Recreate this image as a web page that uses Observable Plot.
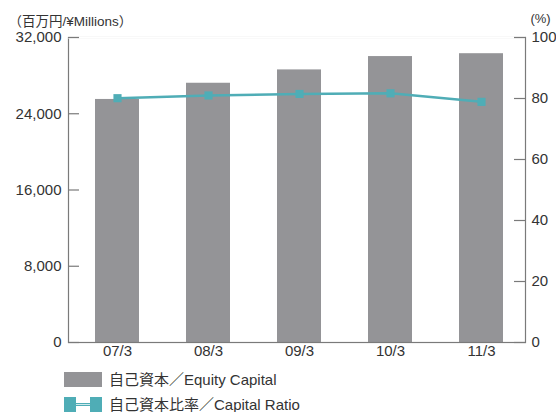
<!DOCTYPE html>
<html>
<head>
<meta charset="utf-8">
<script src="https://cdn.jsdelivr.net/npm/d3@7"></script>
<script src="https://cdn.jsdelivr.net/npm/@observablehq/plot@0.6"></script>
<style>
  html, body { margin: 0; padding: 0; background: #fff; }
  body { width: 556px; height: 412px; overflow: hidden; font-family: 'Liberation Sans', 'Noto Sans CJK JP', sans-serif; color: #333; }
  .legend { position: relative; height: 52px; }
  .item { position: absolute; left: 64px; display: flex; align-items: center; font-size: 15px; line-height: 15px; }
  .item svg { margin-right: 7px; }
</style>
</head>
<body>
<div id="chart"></div>
<div class="legend">
  <div class="item" style="top:12px"><svg width="38" height="15"><rect width="38" height="15" fill="#949497"/></svg><span>自己資本／Equity Capital</span></div>
  <div class="item" style="top:37px"><svg width="38" height="15"><rect x="0" width="12" height="15" fill="#4fadb6"/><rect x="26" width="12" height="15" fill="#4fadb6"/><line x1="12" x2="26" y1="7.5" y2="7.5" stroke="#4fadb6" stroke-width="3"/><line x1="12" x2="26" y1="7.5" y2="7.5" stroke="#cfeaed" stroke-width="1"/></svg><span>自己資本比率／Capital Ratio</span></div>
</div>
<script>
const categories = ["07/3", "08/3", "09/3", "10/3", "11/3"];
const equity = [25500, 27200, 28600, 30000, 30300];
const ratio = [80.1, 81.0, 81.5, 81.7, 78.9];
const leftTicks = [0, 8000, 16000, 24000, 32000];
const rightTicks = [0, 20, 40, 60, 80, 100];
const leftMax = 32000;
const rightMax = 100;
const k = leftMax / rightMax;

const data = categories.map((c, i) => ({cat: c, equity: equity[i], ratio: ratio[i]}));

const axisStroke = "#7a7a7a";
const textFill = "#333";
const teal = "#4fadb6";
const rightTickValues = rightTicks.map(d => d * k);

const chart = Plot.plot({
  width: 556,
  height: 360,
  marginLeft: 68,
  marginRight: 31,
  marginTop: 37,
  marginBottom: 18,
  style: {fontFamily: "'Liberation Sans', 'Noto Sans CJK JP', sans-serif", fontSize: "15px", color: textFill, background: "#fff"},
  x: {domain: categories, paddingInner: 0.52, paddingOuter: 0.25, align: 0.55},
  y: {domain: [0, leftMax]},
  marks: [
    Plot.barY(data, {x: "cat", y: "equity", fill: "#949497"}),
    Plot.frame({stroke: axisStroke, strokeWidth: 1.2}),
    Plot.ruleY([leftMax], {stroke: "#fff", strokeWidth: 2.2}),
    Plot.axisX({tickSize: 0, tickPadding: 3, label: null, fill: textFill}),
    Plot.axisY({anchor: "left", ticks: leftTicks, tickFormat: d3.format(","), tickSize: 0, tickPadding: 7, label: null, fill: textFill}),
    Plot.axisY({anchor: "left", ticks: leftTicks, tickSize: 11, dx: 11, label: null, stroke: axisStroke, fill: "none", strokeWidth: 1.2}),
    Plot.axisY({anchor: "right", ticks: rightTickValues, tickFormat: d => d3.format("d")(d / k), tickSize: 0, tickPadding: 6, label: null, fill: textFill}),
    Plot.axisY({anchor: "right", ticks: rightTickValues, tickSize: 12, dx: -12, label: null, stroke: axisStroke, fill: "none", strokeWidth: 1.2}),
    Plot.line(data, {x: "cat", y: d => d.ratio * k, stroke: teal, strokeWidth: 2.5}),
    Plot.dot(data, {x: "cat", y: d => d.ratio * k, symbol: "square", r: 4.6, fill: teal}),
    Plot.text(["（百万円/¥Millions）"], {frameAnchor: "top-left", dx: -60, dy: -16, textAnchor: "start", lineAnchor: "middle", fontSize: 13.5, fill: textFill}),
    Plot.text(["(%)"], {frameAnchor: "top-right", dx: 15, dy: -19, textAnchor: "middle", lineAnchor: "middle", fontSize: 13, fill: textFill})
  ]
});
document.getElementById("chart").appendChild(chart);
</script>
</body>
</html>
